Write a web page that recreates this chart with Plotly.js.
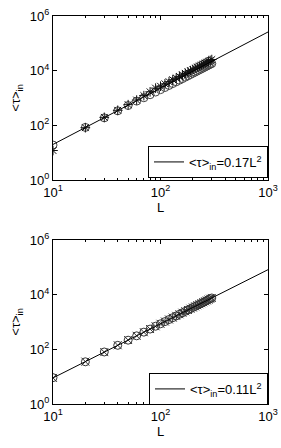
<!DOCTYPE html>
<html>
<head>
<meta charset="utf-8">
<script src="https://cdn.plot.ly/plotly-3.0.1.min.js"></script>
<style>html,body{margin:0;padding:0;background:#fff;}#chart{width:281px;height:448px;}</style>
</head>
<body>
<div id="chart"></div>
<script>
// ---- data ----
var L = [10,20,30,40,50,60,70,80,90,100,110,120,130,140,150,160,170,180,190,200,210,220,230,240,250,260,270,280,290,300];
// top panel
var topCircles = [19,84,188,340,530,770,1020,1320,1650,2020,2420,2880,3380,3920,4480,5100,5780,6480,7240,8020,8860,9740,10650,11600,12600,13650,14750,15900,17100,18300];
var topStars   = [12,82,196,355,570,840,1220,1680,2300,2700,3300,3950,4650,5400,6200,7050,8000,9000,10000,11100,12250,13450,14700,16000,17400,18900,20400,22000,23700,25500];
var fitL = [10,1000];
var topFit = [20,2.6e5];
var topLabel = '<τ><sub>in</sub>=0.17L<sup>2</sup>';
// bottom panel
var botCircles = [9.2,35,80,140,216,312,425,550,700,860,1035,1230,1440,1670,1915,2175,2455,2750,3060,3390,3730,4090,4470,4860,5270,5690,6140,6600,7070,7560];
var botCrosses = [9.0,35.5,79,141,219,313,423,553,697,858,1040,1235,1445,1675,1920,2180,2460,2750,3065,3390,3735,4095,4470,4865,5275,5700,6140,6600,7075,7570];
var botFit = [9,8.2e4];
var botLabel = '<τ><sub>in</sub>=0.11L<sup>2</sup>';
// ticks
var xTickVals = [10,100,1000];
var xTickText = ['10<sup>1</sup>','10<sup>2</sup>','10<sup>3</sup>'];
var yTickVals = [1,100,10000,1000000];
var yTickText = ['10<sup>0</sup>','10<sup>2</sup>','10<sup>4</sup>','10<sup>6</sup>'];
var xMinor = [20,30,40,50,60,70,80,90,200,300,400,500,600,700,800,900];

var font = {family:'Liberation Sans, Arial, sans-serif', size:13, color:'#000'};
var mk = function(sym, col){return {symbol:sym, size:8, color:col, line:{color:col, width:1}};};

var traces = [
  {x:L, y:topCircles, xaxis:'x', yaxis:'y', mode:'markers', marker:mk('circle-open','#444'), showlegend:false},
  {x:L, y:topStars, xaxis:'x', yaxis:'y', mode:'markers', marker:mk('asterisk-open','#111'), showlegend:false},
  {x:fitL, y:topFit, xaxis:'x', yaxis:'y', mode:'lines', line:{color:'#000', width:1}, name:topLabel, legend:'legend'},
  {x:L, y:botCircles, xaxis:'x2', yaxis:'y2', mode:'markers', marker:mk('circle-open','#333'), showlegend:false},
  {x:L, y:botCrosses, xaxis:'x2', yaxis:'y2', mode:'markers', marker:mk('x-thin-open','#333'), showlegend:false},
  {x:fitL, y:botFit, xaxis:'x2', yaxis:'y2', mode:'lines', line:{color:'#000', width:1}, name:botLabel, legend:'legend2'}
];

function xax(anchor){
  return {type:'log', range:[1,3], anchor:anchor, domain:[0,1],
    tickmode:'array', tickvals:xTickVals, ticktext:xTickText,
    ticks:'inside', ticklen:4, tickcolor:'#000', showline:true, linecolor:'#000', linewidth:1, mirror:'ticks',
    showgrid:false, zeroline:false, tickfont:font,
    minor:{tickmode:'array', tickvals:xMinor, ticks:'inside', ticklen:2, tickcolor:'#000', showgrid:false},
    title:{text:'L', font:font, standoff:2}};
}
function yax(anchor, dom){
  return {type:'log', range:[0,6], anchor:anchor, domain:dom,
    tickmode:'array', tickvals:yTickVals, ticktext:yTickText,
    ticks:'inside', ticklen:4, tickcolor:'#000', showline:true, linecolor:'#000', linewidth:1, mirror:'ticks',
    showgrid:false, zeroline:false, tickfont:font,
    title:{text:'<τ><sub>in</sub>', font:font, standoff:6}};
}
var legBase = {xref:'paper', yref:'paper', xanchor:'right', yanchor:'top', x:1,
  bgcolor:'#fff', bordercolor:'#000', borderwidth:1, font:font, tracegroupgap:0};

var layout = {
  width:281, height:448, paper_bgcolor:'#fff', plot_bgcolor:'#fff',
  margin:{l:53, r:13, t:16, b:44}, font:font,
  xaxis:xax('y'), yaxis:yax('x',[0.5773,1]),
  xaxis2:xax('y2'), yaxis2:yax('x2',[0,0.4227]),
  legend:Object.assign({}, legBase, {y:0.665}),
  legend2:Object.assign({}, legBase, {y:0.08}),
  showlegend:true
};
Plotly.newPlot('chart', traces, layout, {displayModeBar:false, staticPlot:true});
</script>
</body>
</html>
